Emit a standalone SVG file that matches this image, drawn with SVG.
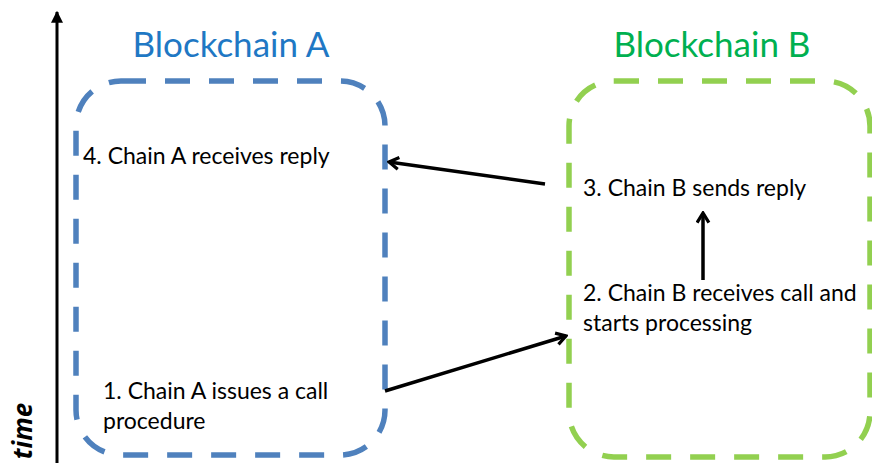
<svg xmlns="http://www.w3.org/2000/svg" width="872" height="463" viewBox="0 0 872 463">
<style>
.lbl{font-family:Lato,"Liberation Sans",sans-serif;font-size:23px;fill:#000}
.title{font-family:Lato,"Liberation Sans",sans-serif;font-size:35px}
.box{fill:none;stroke-width:5.5;stroke-dasharray:25 19}
.conn{stroke:#000;stroke-width:3.5;fill:none}
</style>
<defs>
<marker id="open" viewBox="0 0 14 14" refX="12" refY="7" markerWidth="15" markerHeight="15" markerUnits="userSpaceOnUse" orient="auto">
<path d="M3,1.5 L12,7 L3,12.5" fill="none" stroke="#000" stroke-width="3"/>
</marker>
<marker id="tri" viewBox="0 0 10 10" refX="9" refY="5" markerWidth="12" markerHeight="12" markerUnits="userSpaceOnUse" orient="auto">
<path d="M0,0 L10,5 L0,10 Z" fill="#000"/>
</marker>
</defs>
<g id="time-axis">
<line x1="57" y1="463" x2="57" y2="12" stroke="#000" stroke-width="3" marker-end="url(#tri)"/>
<text transform="translate(32,431) rotate(-90)" text-anchor="middle" style="font-family:'Open Sans','Liberation Sans',sans-serif;font-size:26px;font-weight:bold;font-style:italic">time</text>
</g>
<g id="chainA">
<text class="title" x="231" y="57" text-anchor="middle" fill="#1F78C4">Blockchain A</text>
<rect class="box" x="76" y="81" width="309" height="374" rx="45" stroke="#4F81BD"/>
<text class="lbl" x="83" y="164">4. Chain A receives reply</text>
<text class="lbl" x="103" y="399">1. Chain A issues a call</text>
<text class="lbl" x="103" y="429">procedure</text>
</g>
<g id="chainB">
<text class="title" x="712" y="57" text-anchor="middle" fill="#00B050">Blockchain B</text>
<rect class="box" x="569" y="81" width="301" height="376" rx="45" stroke="#92D050"/>
<text class="lbl" x="583" y="196">3. Chain B sends reply</text>
<text class="lbl" x="583" y="301">2. Chain B receives call and</text>
<text class="lbl" x="583" y="331">starts processing</text>
</g>
<g id="connectors">
<line class="conn" x1="385" y1="391" x2="566" y2="336" marker-end="url(#open)"/>
<line class="conn" x1="545" y1="184" x2="389" y2="162" marker-end="url(#open)"/>
<line class="conn" x1="703" y1="280" x2="703" y2="213" marker-end="url(#open)"/>
</g>
</svg>
